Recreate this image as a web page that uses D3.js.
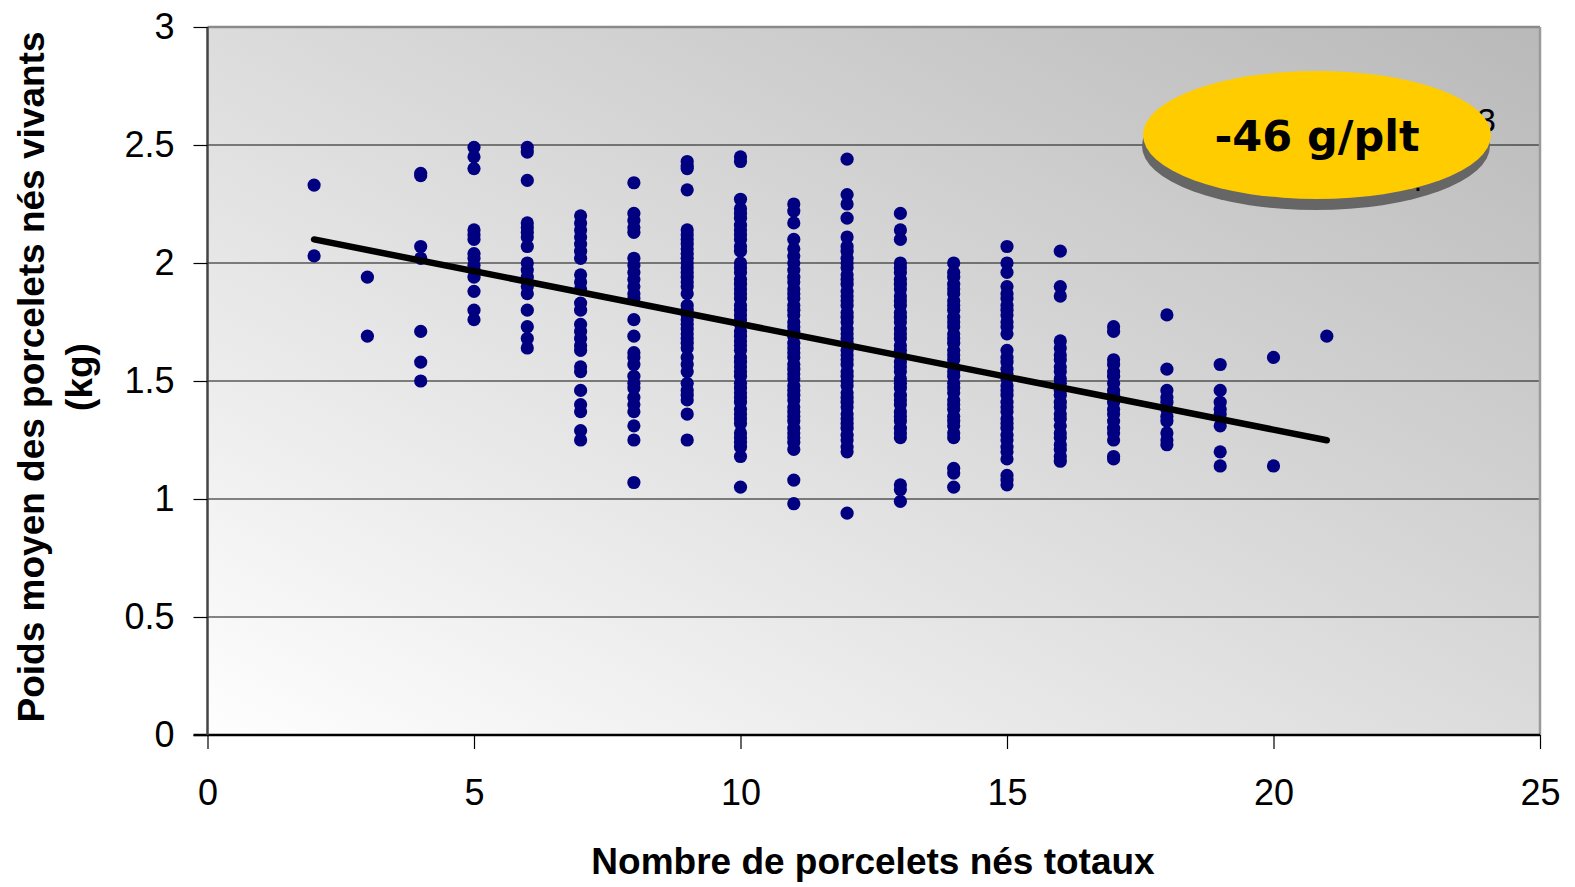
<!DOCTYPE html>
<html>
<head>
<meta charset="utf-8">
<script src="https://cdn.jsdelivr.net/npm/d3@7"></script>
<style>
  html, body { margin: 0; padding: 0; background: #ffffff; }
  svg { display: block; }
</style>
</head>
<body>
<svg id="chart" width="1575" height="887"></svg>
<script>
// ---- Data ----
const litterSizes = [2, 3, 4, 5, 6, 7, 8, 9, 10, 11, 12, 13, 14, 15, 16, 17, 18, 19, 20, 21];
const weightsByLitter = [
  [2.33, 2.03],
  [1.94, 1.69],
  [2.38, 2.37, 2.07, 2.02, 1.71, 1.58, 1.50],
  [2.49, 2.45, 2.40, 2.14, 2.12, 2.10, 2.04, 2.02, 1.99, 1.97, 1.94, 1.88, 1.80, 1.76],
  [2.49, 2.47, 2.35, 2.17, 2.15, 2.13, 2.11, 2.07, 2.00, 1.97, 1.94, 1.90, 1.87, 1.80, 1.73, 1.68, 1.64],
  [2.20, 2.17, 2.14, 2.11, 2.08, 2.05, 2.02, 1.95, 1.92, 1.89, 1.83, 1.80, 1.74, 1.71, 1.68, 1.65, 1.63, 1.56, 1.54, 1.46, 1.40, 1.37, 1.29, 1.25],
  [2.34, 2.21, 2.18, 2.15, 2.13, 2.02, 1.99, 1.96, 1.93, 1.90, 1.87, 1.85, 1.76, 1.69, 1.62, 1.60, 1.57, 1.52, 1.49, 1.47, 1.43, 1.40, 1.37, 1.31, 1.25, 1.07],
  [2.43, 2.41, 2.40, 2.31, 2.14, 2.12, 2.10, 2.08, 2.06, 2.04, 2.02, 2.00, 1.98, 1.96, 1.94, 1.92, 1.90, 1.87, 1.82, 1.80, 1.78, 1.76, 1.74, 1.72, 1.70, 1.68, 1.66, 1.64, 1.60, 1.57, 1.54, 1.49, 1.46, 1.44, 1.42, 1.36, 1.25],
  [2.45, 2.43, 2.27, 2.23, 2.21, 2.19, 2.16, 2.14, 2.12, 2.10, 2.07, 2.05, 2.00, 1.98, 1.96, 1.93, 1.91, 1.89, 1.87, 1.85, 1.82, 1.80, 1.78, 1.76, 1.74, 1.71, 1.69, 1.67, 1.65, 1.63, 1.60, 1.58, 1.56, 1.54, 1.52, 1.49, 1.47, 1.45, 1.43, 1.41, 1.38, 1.36, 1.34, 1.32, 1.28, 1.26, 1.24, 1.22, 1.18, 1.05],
  [2.25, 2.22, 2.17, 2.10, 2.06, 2.03, 2.00, 1.97, 1.94, 1.92, 1.89, 1.87, 1.85, 1.82, 1.80, 1.78, 1.75, 1.73, 1.71, 1.69, 1.66, 1.64, 1.62, 1.60, 1.57, 1.55, 1.53, 1.51, 1.48, 1.46, 1.44, 1.42, 1.39, 1.37, 1.35, 1.33, 1.30, 1.28, 1.26, 1.24, 1.21, 1.08, 0.98],
  [2.44, 2.29, 2.25, 2.19, 2.11, 2.07, 2.05, 2.02, 2.00, 1.98, 1.95, 1.93, 1.91, 1.88, 1.86, 1.84, 1.82, 1.79, 1.77, 1.75, 1.72, 1.70, 1.68, 1.66, 1.63, 1.61, 1.59, 1.57, 1.54, 1.52, 1.50, 1.48, 1.45, 1.43, 1.41, 1.39, 1.36, 1.34, 1.32, 1.30, 1.27, 1.25, 1.22, 1.20, 0.94],
  [2.21, 2.14, 2.10, 2.00, 1.98, 1.96, 1.93, 1.91, 1.89, 1.86, 1.84, 1.82, 1.79, 1.77, 1.75, 1.72, 1.70, 1.68, 1.65, 1.63, 1.61, 1.58, 1.56, 1.54, 1.51, 1.49, 1.47, 1.44, 1.42, 1.40, 1.37, 1.35, 1.33, 1.30, 1.28, 1.26, 1.06, 1.04, 0.99],
  [2.00, 1.96, 1.94, 1.91, 1.89, 1.87, 1.84, 1.82, 1.80, 1.77, 1.75, 1.73, 1.70, 1.68, 1.66, 1.63, 1.61, 1.59, 1.56, 1.54, 1.52, 1.49, 1.47, 1.45, 1.42, 1.40, 1.38, 1.35, 1.33, 1.31, 1.28, 1.26, 1.13, 1.11, 1.05],
  [2.07, 2.00, 1.96, 1.90, 1.87, 1.85, 1.82, 1.80, 1.78, 1.75, 1.73, 1.70, 1.63, 1.60, 1.58, 1.55, 1.53, 1.51, 1.48, 1.46, 1.44, 1.41, 1.39, 1.37, 1.34, 1.32, 1.30, 1.27, 1.25, 1.22, 1.20, 1.17, 1.10, 1.08, 1.06],
  [2.05, 1.90, 1.86, 1.67, 1.64, 1.61, 1.59, 1.56, 1.54, 1.51, 1.49, 1.46, 1.44, 1.41, 1.39, 1.36, 1.34, 1.31, 1.28, 1.26, 1.23, 1.21, 1.18, 1.16],
  [1.73, 1.71, 1.59, 1.57, 1.54, 1.52, 1.49, 1.46, 1.44, 1.41, 1.38, 1.36, 1.33, 1.30, 1.28, 1.25, 1.18, 1.17],
  [1.78, 1.55, 1.46, 1.43, 1.41, 1.38, 1.35, 1.33, 1.28, 1.25, 1.23],
  [1.57, 1.46, 1.41, 1.38, 1.36, 1.31, 1.20, 1.14],
  [1.60, 1.14],
  [1.69]
];
const trendSlope = -0.0448;
const trendIntercept = 2.1895;
const trendRange = [2, 21];
const xTicks = [0, 5, 10, 15, 20, 25];
const yTicks = [0, 0.5, 1, 1.5, 2, 2.5, 3];
const xTitle = "Nombre de porcelets nés totaux";
const yTitleLines = ["Poids moyen des porcelets nés vivants", "(kg)"];
const badgeText = "-46 g/plt";
// fragments of the trend-equation label that peek out from behind the badge
const hiddenLabelFragments = ["3", "."];

// ---- Layout ----
const svg = d3.select("#chart");
const W = 1575, H = 887;
const margin = { left: 207.5, right: 35, top: 27, bottom: 152 };
const x = d3.scaleLinear().domain([0, 25]).range([margin.left, W - margin.right]);
const y = d3.scaleLinear().domain([0, 3]).range([H - margin.bottom, margin.top]);

const points = [];
litterSizes.forEach((n, i) => weightsByLitter[i].forEach(w => points.push({ n, w })));

// Background gradient
const defs = svg.append("defs");
const grad = defs.append("linearGradient").attr("id", "bg")
  .attr("x1", 0).attr("y1", 1).attr("x2", 1).attr("y2", 0);
grad.append("stop").attr("offset", "0%").attr("stop-color", "#fefefe");
grad.append("stop").attr("offset", "100%").attr("stop-color", "#b9b9b9");

svg.append("rect")
  .attr("x", x(0)).attr("y", y(3))
  .attr("width", x(25) - x(0)).attr("height", y(0) - y(3))
  .attr("fill", "url(#bg)");

// Gridlines
svg.append("g").selectAll("line")
  .data(yTicks.filter(t => t > 0 && t < 3))
  .join("line")
  .attr("x1", x(0)).attr("x2", x(25))
  .attr("y1", d => y(d)).attr("y2", d => y(d))
  .attr("stroke", "#111").attr("stroke-width", 1.2);

// Plot border (top / right)
svg.append("line").attr("x1", x(0)).attr("x2", x(25)).attr("y1", y(3)).attr("y2", y(3))
  .attr("stroke", "#8a8a8a").attr("stroke-width", 2.5);
svg.append("line").attr("x1", x(25)).attr("x2", x(25)).attr("y1", y(3)).attr("y2", y(0))
  .attr("stroke", "#9a9a9a").attr("stroke-width", 2.5);

// Points
svg.append("g").selectAll("circle")
  .data(points)
  .join("circle")
  .attr("cx", d => x(d.n)).attr("cy", d => y(d.w))
  .attr("r", 6.6)
  .attr("fill", "#000080");

// Trend line
svg.append("line")
  .attr("x1", x(trendRange[0])).attr("y1", y(trendIntercept + trendSlope * trendRange[0]))
  .attr("x2", x(trendRange[1])).attr("y2", y(trendIntercept + trendSlope * trendRange[1]))
  .attr("stroke", "#000").attr("stroke-width", 6.5).attr("stroke-linecap", "round");

// Badge: shadow, peeking label fragments, yellow ellipse, label
const bcx = 1317, bcy = 135, brx = 174, bry = 64;
svg.append("ellipse").attr("cx", bcx - 1).attr("cy", bcy + 11).attr("rx", brx).attr("ry", bry)
  .attr("fill", "#666666");
svg.append("text").attr("x", 1496).attr("y", 132).attr("text-anchor", "end")
  .attr("font-family", "Liberation Sans, Arial, sans-serif").attr("font-size", 34)
  .attr("fill", "#000").text(hiddenLabelFragments[0]);
svg.append("text").attr("x", 1422).attr("y", 191).attr("text-anchor", "end")
  .attr("font-family", "Liberation Sans, Arial, sans-serif").attr("font-size", 30)
  .attr("fill", "#000").text(hiddenLabelFragments[1]);
svg.append("ellipse").attr("cx", bcx).attr("cy", bcy).attr("rx", brx).attr("ry", bry)
  .attr("fill", "#ffcc00");
svg.append("text").attr("x", bcx).attr("y", 151).attr("text-anchor", "middle")
  .attr("font-family", "DejaVu Sans, Verdana, sans-serif").attr("font-weight", "bold")
  .attr("font-size", 43).attr("fill", "#000").text(badgeText);

// Axes
const xAxis = d3.axisBottom(x).tickValues(xTicks).tickFormat(d3.format("d")).tickSize(14).tickPadding(30);
const gx = svg.append("g").attr("transform", `translate(0,${y(0)})`).call(xAxis);
gx.select(".domain").attr("stroke", "#000").attr("stroke-width", 2.5).attr("d", `M${x(0) - 14},0H${x(25)}`);
gx.selectAll(".tick line").attr("stroke", "#000").attr("stroke-width", 1.2);
gx.selectAll(".tick text").attr("font-family", "Liberation Sans, Arial, sans-serif")
  .attr("font-size", 36).attr("fill", "#000");

const yAxis = d3.axisLeft(y).tickValues(yTicks).tickFormat(d => d).tickSize(14).tickPadding(19);
const gy = svg.append("g").attr("transform", `translate(${x(0)},0)`).call(yAxis);
gy.select(".domain").attr("stroke", "#444").attr("stroke-width", 2.5).attr("d", `M0,${y(3)}V${y(0)}`);
gy.selectAll(".tick line").attr("stroke", "#000").attr("stroke-width", 1.2);
gy.selectAll(".tick text").attr("font-family", "Liberation Sans, Arial, sans-serif")
  .attr("font-size", 36).attr("fill", "#000");

// Axis titles
svg.append("text").attr("x", 873).attr("y", 874).attr("text-anchor", "middle")
  .attr("font-family", "Liberation Sans, Arial, sans-serif").attr("font-weight", "bold")
  .attr("font-size", 37).attr("fill", "#000").text(xTitle);

const yt = svg.append("g").attr("transform", "translate(0,377) rotate(-90)");
yt.append("text").attr("x", 0).attr("y", 44).attr("text-anchor", "middle")
  .attr("font-family", "Liberation Sans, Arial, sans-serif").attr("font-weight", "bold")
  .attr("font-size", 37).attr("fill", "#000").text(yTitleLines[0]);
yt.append("text").attr("x", 0).attr("y", 92).attr("text-anchor", "middle")
  .attr("font-family", "Liberation Sans, Arial, sans-serif").attr("font-weight", "bold")
  .attr("font-size", 37).attr("fill", "#000").text(yTitleLines[1]);
</script>
</body>
</html>
